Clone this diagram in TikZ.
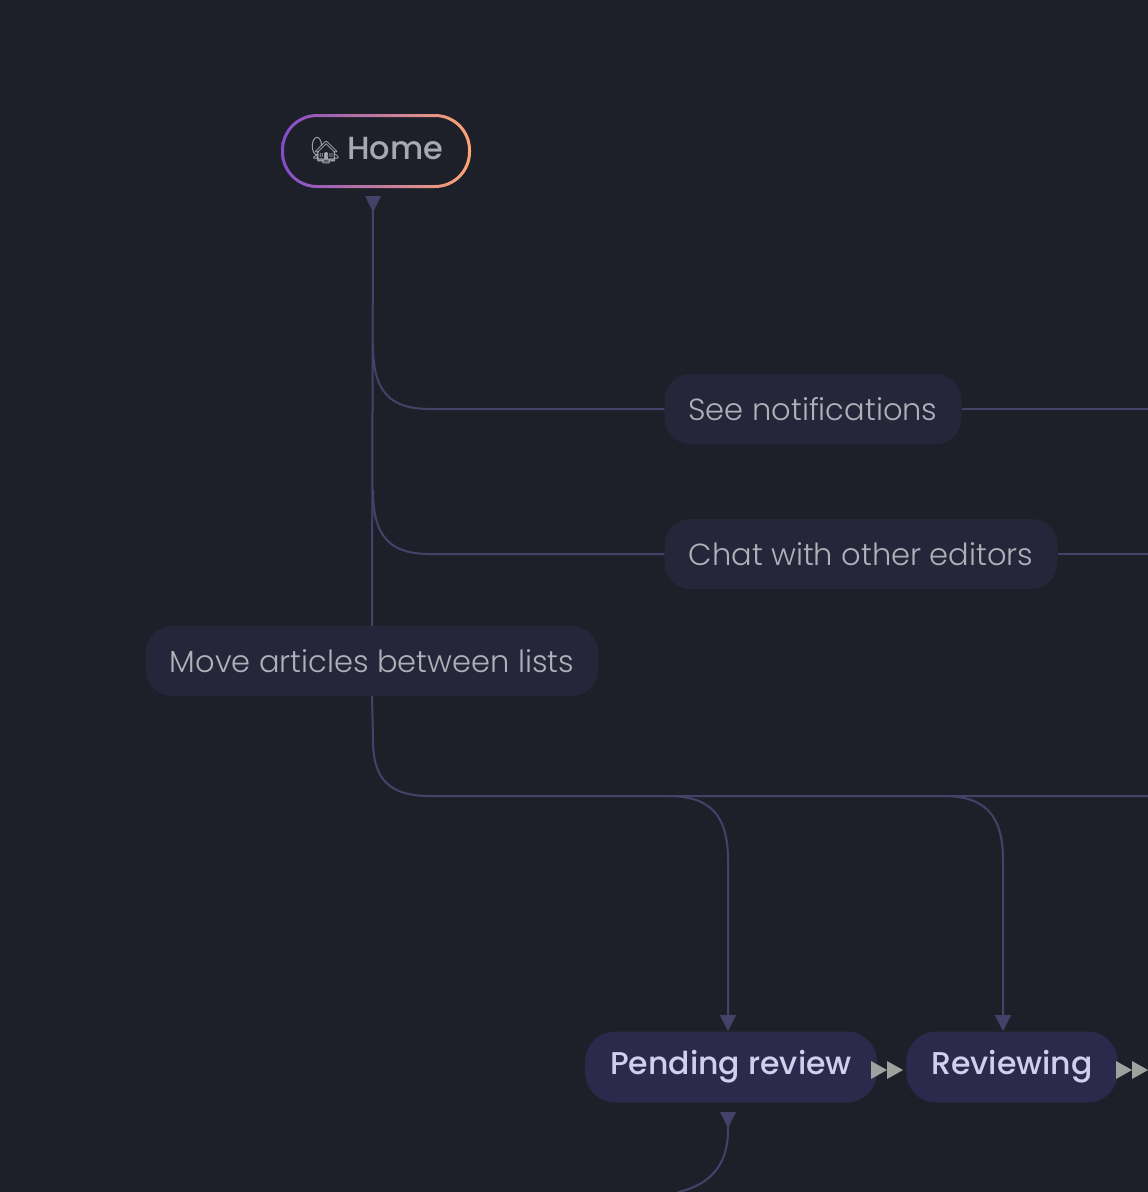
\documentclass[tikz,border=0pt]{standalone}
\usepackage{fontspec}
\setmainfont{Poppins}[UprightFont=* Light, BoldFont=* Medium]
\newfontfamily\emojifont{Noto Emoji}
\usetikzlibrary{arrows.meta,positioning}
\definecolor{bgcol}{HTML}{1E2029}
\definecolor{linkcol}{HTML}{45426A}
\definecolor{labfill}{HTML}{25263A}
\definecolor{labtext}{HTML}{B0B0B8}
\definecolor{statefill}{HTML}{2C2A4C}
\definecolor{statetext}{HTML}{D0D0EC}
\definecolor{tipcol}{HTML}{A0A2A0}
\tikzset{
  edgelabel/.style={fill=labfill,text=labtext,rounded corners=26pt,minimum height=70pt,inner xsep=24pt,font=\fontsize{30.5}{34}\selectfont},
  statebox/.style={fill=statefill,text=statetext,rounded corners=30pt,minimum height=71pt,inner xsep=25pt,font=\bfseries\fontsize{31.5}{35}\selectfont},
  link/.style={draw=linkcol,line width=2pt},
  linktip/.style={link,-{Triangle[length=16pt,width=16pt]}},
}
\begin{document}
\begin{tikzpicture}[x=1pt,y=-1pt]
\fill[bgcol] (0,0) rectangle (1148,1192);
\useasboundingbox (0,0) rectangle (1148,1192);
% home node with gradient ring
\shade[left color=violet!60!blue!70!white,right color=orange!40!pink,even odd rule]
  [rounded corners=36pt] (281,114) rectangle (471,188)
  [rounded corners=33pt] (284,117) rectangle (468,185);
\node[text=labtext!110!white,font=\bfseries\fontsize{32}{36}\selectfont] (home) at (376,151) {{\emojifont\fontsize{26}{30}\selectfont 🏡}\,Home};
% labels
\node[edgelabel] (notif) at (813,409) {See notifications};
\node[edgelabel] (chat) at (861,554) {Chat with other editors};
\node[edgelabel] (move) at (372,661) {Move articles between lists};
\node[statebox] (pending) at (731,1067) {Pending review};
\node[statebox] (reviewing) at (1012,1067) {Reviewing};
\coordinate (top) at (373,196);
\coordinate (eastA) at (1148,409);
\coordinate (eastB) at (1148,554);
\coordinate (eastC) at (1148,796);
\coordinate (pin) at (728,1031);
\coordinate (rin) at (1003,1031);
\coordinate (bottom) at (678,1192);
% connectors
\fill[linkcol] (365,196) -- (381,196) -- (373,212) -- cycle;
\draw[link] (top) -- (move.north);
\draw[link] (373,345) .. controls (373,392) and (390,409) .. (430,409) -- (notif.west);
\draw[link] (notif.east) -- (eastA);
\draw[link] (373,490) .. controls (373,537) and (390,554) .. (430,554) -- (chat.west);
\draw[link] (chat.east) -- (eastB);
\draw[link] (move.south) -- (373,740) .. controls (373,780) and (390,796) .. (430,796) -- (eastC);
\draw[linktip] (668,796) .. controls (710,796) and (728,815) .. (728,860) -- (pin);
\draw[linktip] (943,796) .. controls (985,796) and (1003,815) .. (1003,860) -- (rin);
\fill[linkcol] (720,1112) -- (736,1112) -- (728,1128) -- cycle;
\draw[link] (728,1112) -- (728,1130) .. controls (728,1165) and (710,1185) .. (bottom);
% double tips between states
\foreach \x in {871,1116}{
  \fill[tipcol] (\x,1061) -- (\x+16,1070) -- (\x,1079) -- cycle;
  \fill[tipcol] (\x+16,1061) -- (\x+32,1070) -- (\x+16,1079) -- cycle;
}
\end{tikzpicture}
\end{document}
